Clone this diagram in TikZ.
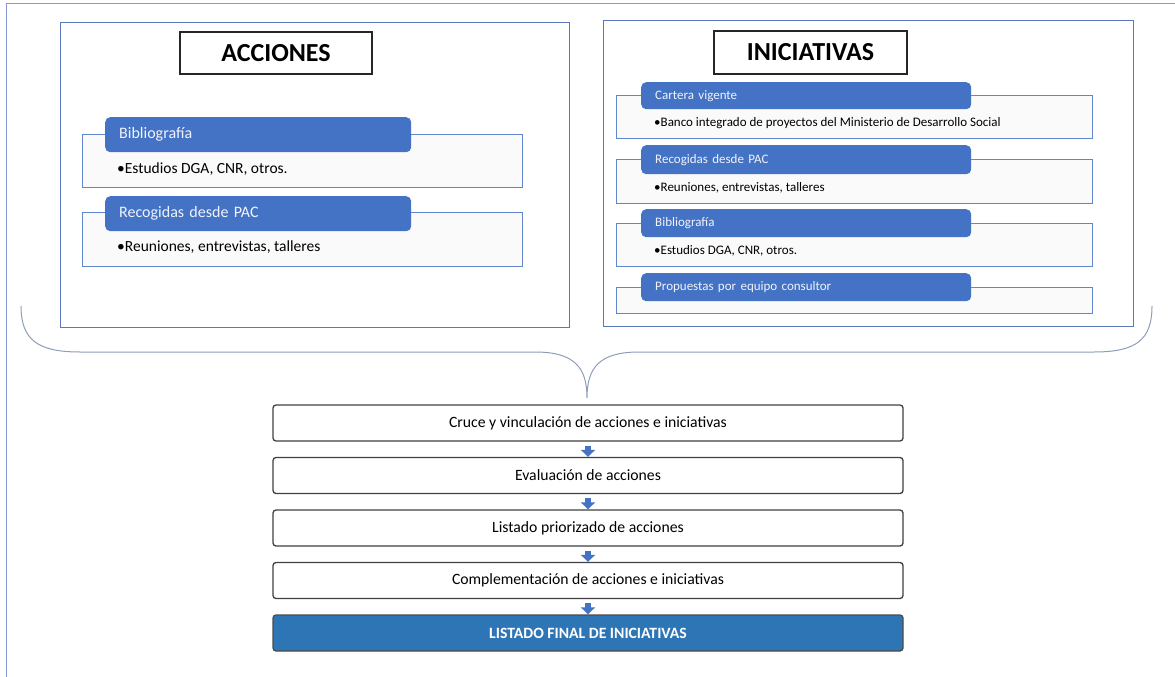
\documentclass[tikz,border=0pt]{standalone}
\usepackage{fontspec}
\setmainfont{Carlito}
\usepackage{xcolor}
\usetikzlibrary{arrows.meta, positioning, calc}
\definecolor{azulcaja}{HTML}{4472C4}
\definecolor{azulmarco}{HTML}{5B78BE}
\definecolor{azulfinal}{HTML}{2E75B6}
\definecolor{grisllave}{HTML}{8E9DB8}
\definecolor{fondocuerpo}{HTML}{FAFAFA}

\begin{document}
\begin{tikzpicture}[
  x=1pt, y=-1pt,
  node distance=15.2pt,
  marco/.style={draw=azulmarco, line width=1.3pt},
  titulo/.style={draw=black!85, line width=1.1pt, fill=white,
                 minimum width=192pt, minimum height=42pt,
                 font=\fontsize{26}{30}\selectfont\bfseries},
  cuerpo/.style={draw=azulcaja!85, line width=1.1pt, fill=fondocuerpo,
                 anchor=north west, inner sep=0pt},
  encab/.style={fill=azulcaja, rounded corners=5pt, text=white!92!azulcaja,
                anchor=north west, align=left, inner xsep=14pt,
                inner ysep=0pt},
  vineta/.style={anchor=west, inner sep=0pt},
  paso/.style={draw=black!75, line width=1.3pt, rounded corners=3pt,
               fill=white, minimum width=630pt, minimum height=36pt,
               font=\fontsize{15.7}{18}\selectfont},
  flecha/.style={-{Triangle[width=14pt,length=7pt]}, line width=6pt,
                 azulcaja},
  llave/.style={draw=grisllave, line width=1pt}
]
\useasboundingbox (0,0) rectangle (1175,677);

% Marco exterior
\draw[azulmarco!75, line width=1pt] (1175,4) -- (6,4) -- (6,677);

% Bloque acciones
\node[marco, anchor=north west, minimum width=509pt, minimum height=305pt,
      inner sep=0pt] (acc) at (60,22) {};
\node[titulo] (tacc) at (276,53) {ACCIONES};

\node[cuerpo, minimum width=440pt, minimum height=53pt] (cacc1) at (82,134) {};
\node[encab, text width=278pt, minimum height=35pt,
      font=\fontsize{16}{19}\selectfont] (eacc1) at (105,117) {Bibliografía};
\node[vineta, font=\fontsize{15.5}{18}\selectfont] (vacc1) at (117,169.5)
  {•Estudios DGA, CNR, otros.};

\node[cuerpo, minimum width=440pt, minimum height=54pt] (cacc2) at (82,212) {};
\node[encab, text width=278pt, minimum height=35pt,
      font=\fontsize{16}{19}\selectfont] (eacc2) at (105,196) {Recogidas desde PAC};
\node[vineta, font=\fontsize{15.5}{18}\selectfont] (vacc2) at (117,247.5)
  {•Reuniones, entrevistas, talleres};

% Bloque iniciativas
\node[marco, anchor=north west, minimum width=530pt, minimum height=306pt,
      inner sep=0pt] (ini) at (603,20) {};
\node[titulo, minimum width=193pt, minimum height=43pt] (tini) at (810.5,52.5) {INICIATIVAS};

\node[cuerpo, minimum width=476pt, minimum height=43pt] (cini1) at (616,95) {};
\node[encab, text width=302pt, minimum height=27pt,
      font=\fontsize{13}{16}\selectfont] (eini1) at (641,82) {Cartera vigente};
\node[vineta, font=\fontsize{13}{16}\selectfont] (vini1) at (654,123)
  {•Banco integrado de proyectos del Ministerio de Desarrollo Social};

\node[cuerpo, minimum width=476pt, minimum height=44pt] (cini2) at (616,159) {};
\node[encab, text width=302pt, minimum height=29pt,
      font=\fontsize{13}{16}\selectfont] (eini2) at (641,145) {Recogidas desde PAC};
\node[vineta, font=\fontsize{13}{16}\selectfont] (vini2) at (654,188)
  {•Reuniones, entrevistas, talleres};

\node[cuerpo, minimum width=476pt, minimum height=43pt] (cini3) at (616,223) {};
\node[encab, text width=302pt, minimum height=28pt,
      font=\fontsize{13}{16}\selectfont] (eini3) at (641,209) {Bibliografía};
\node[vineta, font=\fontsize{13}{16}\selectfont] (vini3) at (654,251)
  {•Estudios DGA, CNR, otros.};

\node[cuerpo, minimum width=476pt, minimum height=26pt] (cini4) at (616,287) {};
\node[encab, text width=302pt, minimum height=28pt,
      font=\fontsize{13}{16}\selectfont] (eini4) at (641,273) {Propuestas por equipo consultor};

% Llave
\coordinate (punta) at (587,398);
\draw[llave] (21,306) .. controls (21,340) and (38,352) .. (80,352)
  -- (535,352) .. controls (575,352) and (587,368) .. (punta)
  .. controls (587,368) and (599,352) .. (639,352)
  -- (1094,352) .. controls (1136,352) and (1152,340) .. (1152,306);

% Pasos
\node[paso] (c1) at (588,423) {Cruce y vinculación de acciones e iniciativas};
\node[paso, below=of c1] (c2) {Evaluación de acciones};
\node[paso, below=of c2] (c3) {Listado priorizado de acciones};
\node[paso, below=of c3] (c4) {Complementación de acciones e iniciativas};
\node[paso, below=of c4, fill=azulfinal, draw=black!70, text=white,
      font=\fontsize{15.7}{18}\selectfont\bfseries] (fin) {LISTADO FINAL DE INICIATIVAS};

% Flechas
\draw[flecha] ([yshift=-4pt]c1.south) -- (c2.north);
\draw[flecha] ([yshift=-4pt]c2.south) -- (c3.north);
\draw[flecha] ([yshift=-4pt]c3.south) -- (c4.north);
\draw[flecha] ([yshift=-4pt]c4.south) -- (fin.north);
\end{tikzpicture}
\end{document}
